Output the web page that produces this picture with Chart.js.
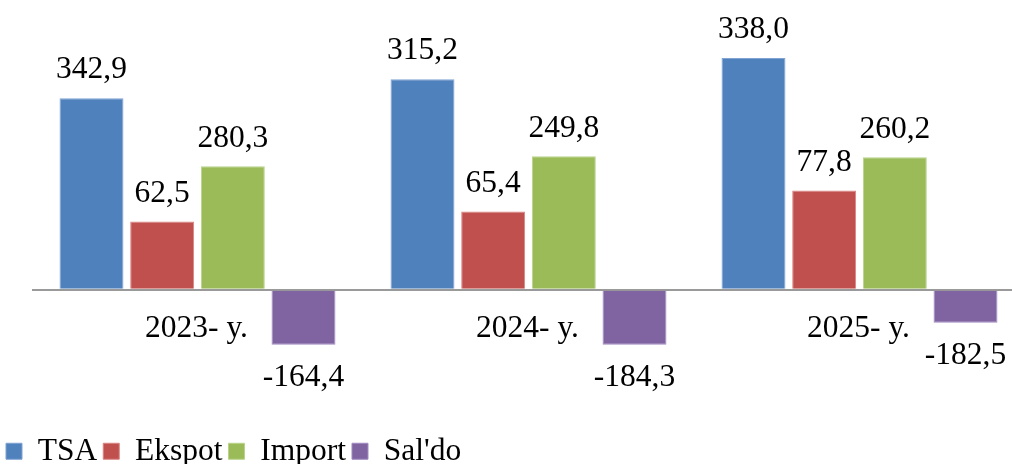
<!DOCTYPE html>
<html>
<head>
<meta charset="utf-8">
<script src="https://cdn.jsdelivr.net/npm/chart.js@4/dist/chart.umd.min.js"></script>
<style>
  html, body { margin: 0; padding: 0; overflow: hidden; background: #ffffff; }
  #wrap { position: relative; width: 1040px; height: 477px; }
</style>
</head>
<body>
<div id="wrap"><canvas id="c"></canvas></div>
<script>
// Categories
const categories = ["2023- y.", "2024- y.", "2025- y."];
// Series names
const seriesNames = ["TSA", "Ekspot", "Import", "Sal'do"];
// Bar heights (same scale for all bars)
const tsaValues    = [191, 210, 231];
const ekspotValues = [68, 78, 99];
const importValues = [123, 133, 132];
const saldoValues  = [-55, -55, -33];
// Data labels as printed on the picture
const tsaLabels    = ["342,9", "315,2", "338,0"];
const ekspotLabels = ["62,5", "65,4", "77,8"];
const importLabels = ["280,3", "249,8", "260,2"];
const saldoLabels  = ["-164,4", "-184,3", "-182,5"];

const FONT = '"Liberation Serif", "Times New Roman", serif';
const FS = 31.5;

const colors  = ["#4F81BD", "#C0504D", "#9BBB59", "#8064A2"];
const borders = ["#7FA3D3", "#D98582", "#B9D48A", "#A08BC0"];
const values  = [tsaValues, ekspotValues, importValues, saldoValues];
const labels  = [tsaLabels, ekspotLabels, importLabels, saldoLabels];

const valueLabelPlugin = {
  id: 'valueLabels',
  afterDatasetsDraw(chart) {
    const ctx = chart.ctx;
    ctx.save();
    ctx.font = FS + 'px ' + FONT;
    ctx.fillStyle = '#000000';
    ctx.textAlign = 'center';
    ctx.textBaseline = 'middle';
    chart.data.datasets.forEach((ds, di) => {
      const meta = chart.getDatasetMeta(di);
      meta.data.forEach((el, i) => {
        const v = ds.data[i];
        const txt = ds.valueLabels[i];
        const y = v >= 0 ? el.y - 28 : el.y + 33;
        ctx.fillText(txt, el.x, y);
      });
    });
    // category labels just below the zero line
    const xs = chart.scales.x, ys = chart.scales.y;
    const y0 = ys.getPixelForValue(0);
    chart.data.labels.forEach((lab, i) => {
      ctx.fillText(lab, xs.getPixelForValue(i) - 1, y0 + 39);
    });
    ctx.restore();
  }
};

new Chart(document.getElementById('c'), {
  type: 'bar',
  data: {
    labels: categories,
    datasets: seriesNames.map((name, i) => ({
      label: name,
      data: values[i],
      valueLabels: labels[i],
      backgroundColor: colors[i],
      borderColor: borders[i],
      borderWidth: 1,
      categoryPercentage: 0.854,
      barPercentage: 0.905
    }))
  },
  options: {
    responsive: true,
    maintainAspectRatio: false,
    animation: false,
    layout: { padding: { top: 19, right: 15, left: 0, bottom: 0 } },
    scales: {
      x: { display: false },
      y: {
        min: -139.5,
        max: 270,
        afterFit: (s) => { s.width = 32; },
        ticks: { display: false },
        border: { display: false },
        grid: {
          drawTicks: false,
          color: (c) => (c.tick && c.tick.value === 0) ? '#9A9A9A' : 'rgba(0,0,0,0)',
          lineWidth: (c) => (c.tick && c.tick.value === 0) ? 2 : 0
        }
      }
    },
    plugins: {
      tooltip: { enabled: false },
      legend: {
        position: 'bottom',
        align: 'start',
        labels: {
          boxWidth: 16,
          boxHeight: 16,
          padding: 6,
          color: '#000000',
          font: { family: FONT, size: FS }
        }
      }
    }
  },
  plugins: [valueLabelPlugin]
});
</script>
</body>
</html>
